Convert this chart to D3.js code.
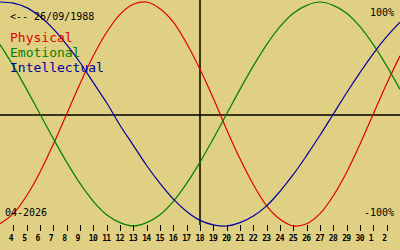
<!DOCTYPE html>
<html>
<head>
<meta charset="utf-8">
<script src="https://cdn.jsdelivr.net/npm/d3@7"></script>
<style>
	html, body { margin: 0; padding: 0; background: #e0d084; }
	svg { display: block; }
	text { font-family: "DejaVu Sans Mono", monospace; }
</style>
</head>
<body>
<div id="chart"></div>
<script>
// days shown along the bottom (04-2026), one extra day at each edge for the curves
var dayLabels = [4, 5, 6, 7, 8, 9, 10, 11, 12, 13, 14, 15, 16, 17, 18, 19, 20, 21, 22, 23, 24, 25, 26, 27, 28, 29, 30, 1, 2];
var dayIndex = d3.range(-1, 30);

// values in %, from 3 Apr to 3 May
var physical = [-98, -89, -73, -52, -27, 0, 27, 52, 73, 89, 98, 100, 94, 82, 63, 40, 14, -14, -40, -63, -82, -94, -100, -98, -89, -73, -52, -27, 0, 27, 52];
var emotional = [62, 43, 22, 0, -22, -43, -62, -78, -90, -97, -100, -97, -90, -78, -62, -43, -22, 0, 22, 43, 62, 78, 90, 97, 100, 97, 90, 78, 62, 43, 22];
var intellectual = [100, 99, 95, 87, 76, 62, 46, 28, 10, -10, -28, -46, -62, -76, -87, -95, -99, -100, -97, -91, -82, -69, -54, -37, -19, 0, 19, 37, 54, 69, 82];

var series = [
	{name: "Physical", values: physical, colour: "#e00000"},
	{name: "Emotional", values: emotional, colour: "#008000"},
	{name: "Intellectual", values: intellectual, colour: "#0000a0"}
];

var width = 400, height = 250;
var todayIdx = 14; // 18th

var svg = d3.select("#chart").append("svg")
	.attr("width", width)
	.attr("height", height);

svg.append("rect")
	.attr("width", width)
	.attr("height", height)
	.attr("fill", "#e0d084");

var x = d3.scaleLinear().domain([-1, 29]).range([0, width]);
var y = d3.scaleLinear().domain([-100, 100]).range([226, 2]);

// axes cross
svg.append("line")
	.attr("x1", 0).attr("x2", width)
	.attr("y1", y(0) + 1).attr("y2", y(0) + 1)
	.attr("stroke", "#000").attr("stroke-width", 1.5);
svg.append("line")
	.attr("x1", x(todayIdx)).attr("x2", x(todayIdx))
	.attr("y1", 0).attr("y2", 225)
	.attr("stroke", "#000").attr("stroke-width", 1.5);

var line = d3.line()
	.x((d, i) => x(dayIndex[i]))
	.y(d => y(d))
	.curve(d3.curveCatmullRom);

svg.selectAll(".bio")
	.data(series)
	.enter().append("path")
	.attr("class", "bio")
	.attr("d", d => line(d.values))
	.attr("fill", "none")
	.attr("stroke", d => d.colour)
	.attr("stroke-width", 1.2);

// day ticks
var ticks = svg.append("g");
ticks.selectAll("line")
	.data(dayLabels)
	.enter().append("line")
	.attr("x1", (d, i) => Math.round(x(i)) + 0.5)
	.attr("x2", (d, i) => Math.round(x(i)) + 0.5)
	.attr("y1", 225).attr("y2", 231)
	.attr("stroke", "#000");
ticks.selectAll("text")
	.data(dayLabels)
	.enter().append("text")
	.attr("x", (d, i) => x(i) - 4.5)
	.attr("y", 241)
	.attr("font-size", "8px")
	.attr("font-weight", "bold")
	.attr("letter-spacing", "-0.6px")
	.text(d => d);

// labels
svg.append("text").attr("x", 10).attr("y", 20).attr("font-size", "10px").text("<-- 26/09/1988");
svg.append("text").attr("x", 394).attr("y", 16).attr("font-size", "10px").attr("text-anchor", "end").text("100%");
svg.append("text").attr("x", 394).attr("y", 216).attr("font-size", "10px").attr("text-anchor", "end").text("-100%");
svg.append("text").attr("x", 5).attr("y", 216).attr("font-size", "10px").text("04-2026");

svg.selectAll(".key")
	.data(series)
	.enter().append("text")
	.attr("class", "key")
	.attr("x", 10)
	.attr("y", (d, i) => 42 + i * 15)
	.attr("font-size", "13px")
	.attr("fill", d => d.colour)
	.text(d => d.name);
</script>
</body>
</html>
